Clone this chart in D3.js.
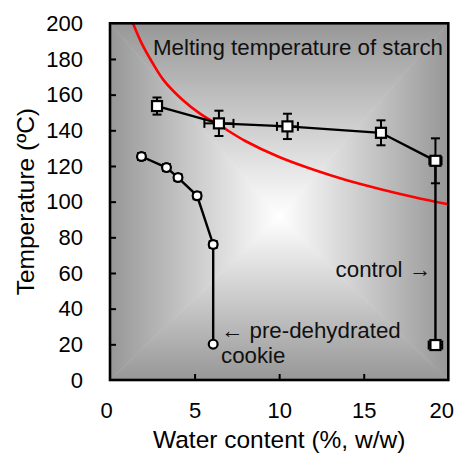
<!DOCTYPE html>
<html>
<head>
<meta charset="utf-8">
<script src="https://cdn.jsdelivr.net/npm/d3@7/dist/d3.min.js"></script>
<style>
  html, body { margin: 0; padding: 0; background: #fff; }
  svg { display: block; font-family: "Liberation Sans", Arial, sans-serif; }
</style>
</head>
<body>
<svg id="chart" width="460" height="453"></svg>
<script>
// Control cookie: water content (%, w/w), temperature (ºC), and their errors
const controlWater = [2.78, 6.44, 10.49, 16.02, 19.24, 19.24];
const controlTemp  = [153.6, 143.9, 142.2, 138.6, 122.9, 19.6];
const controlWaterErr = [0.15, 0.86, 0.62, 0.22, 0.36, 0.40];
const controlTempErr  = [4.8, 7.1, 7.1, 7.0, 12.6, 0.0];

// Pre-dehydrated cookie
const preWater = [1.86, 3.34, 4.02, 5.15, 6.10, 6.10];
const preTemp  = [125.3, 119.1, 113.5, 103.3, 76.0, 20.1];
const preWaterErr = [0.2, 0.2, 0.2, 0.2, 0.2, 0.0];
const preTempErr  = [1.5, 1.5, 1.5, 1.5, 1.5, 0.0];

// Melting temperature of starch vs. water content
const meltWater = [1.36, 1.86, 2.5, 3.18, 4.3, 5.3, 6.44, 8.0, 10.0, 12.0, 14.0, 16.0, 18.0, 20.0];
const meltTemp  = [200.0, 189.0, 178.0, 168.0, 157.0, 149.5, 143.0, 134.0, 125.0, 118.0, 112.0, 107.0, 102.5, 98.5];

const xTicks = [0, 5, 10, 15, 20];
const yTicks = [0, 20, 40, 60, 80, 100, 120, 140, 160, 180, 200];

const svg = d3.select("#chart");
const plot = { left: 110, top: 23.3, right: 448.3, bottom: 380 };
const W = plot.right - plot.left, H = plot.bottom - plot.top;

const x = d3.scaleLinear().domain([0, 20]).range([plot.left, plot.right]);
const y = d3.scaleLinear().domain([0, 200]).range([plot.bottom, plot.top]);

const defs = svg.append("defs");
defs.append("clipPath").attr("id", "plotClip")
  .append("rect").attr("x", plot.left).attr("y", plot.top).attr("width", W).attr("height", H);

// Rectangular "from centre" shading: four triangles, each with a linear ramp
const cx = plot.left + W / 2, cy = plot.top + H / 2 + 15;
const edgeGrey = "#979797", centreWhite = "#ffffff";
function ramp(id, x1, y1, x2, y2) {
  const g = defs.append("linearGradient").attr("id", id)
    .attr("gradientUnits", "userSpaceOnUse")
    .attr("x1", x1).attr("y1", y1).attr("x2", x2).attr("y2", y2);
  g.append("stop").attr("offset", 0).attr("stop-color", edgeGrey);
  g.append("stop").attr("offset", 1).attr("stop-color", centreWhite);
}
ramp("gTop", cx, plot.top, cx, cy);
ramp("gBottom", cx, plot.bottom, cx, cy);
ramp("gLeft", plot.left, cy, cx, cy);
ramp("gRight", plot.right, cy, cx, cy);

const bg = svg.append("g");
const tri = (pts, fill) => bg.append("polygon")
  .attr("points", pts.map(p => p.join(",")).join(" "))
  .attr("fill", fill).attr("stroke", fill).attr("stroke-width", 0.6);
tri([[plot.left, plot.top], [plot.right, plot.top], [cx, cy]], "url(#gTop)");
tri([[plot.left, plot.bottom], [plot.right, plot.bottom], [cx, cy]], "url(#gBottom)");
tri([[plot.left, plot.top], [plot.left, plot.bottom], [cx, cy]], "url(#gLeft)");
tri([[plot.right, plot.top], [plot.right, plot.bottom], [cx, cy]], "url(#gRight)");

// Melting curve
const meltPts = meltWater.map((w, i) => [w, meltTemp[i]]);
svg.append("path")
  .attr("clip-path", "url(#plotClip)")
  .attr("d", d3.line().x(d => x(d[0])).y(d => y(d[1])).curve(d3.curveCatmullRom.alpha(0.5))(meltPts))
  .attr("fill", "none").attr("stroke", "#ff0000").attr("stroke-width", 2.6);

function drawSeries(ws, ts, wErr, tErr, shape) {
  const pts = ws.map((w, i) => ({ w, t: ts[i], we: wErr[i], te: tErr[i] }));
  const g = svg.append("g");
  g.append("path")
    .attr("d", d3.line().x(d => x(d.w)).y(d => y(d.t))(pts))
    .attr("fill", "none").attr("stroke", "#000").attr("stroke-width", 2.4);
  const cap = 4.5;
  pts.forEach(d => {
    const px = x(d.w), py = y(d.t);
    if (d.te > 0) {
      const y1 = y(d.t + d.te), y2 = y(d.t - d.te);
      g.append("line").attr("x1", px).attr("x2", px).attr("y1", y1).attr("y2", y2);
      g.append("line").attr("x1", px - cap).attr("x2", px + cap).attr("y1", y1).attr("y2", y1);
      g.append("line").attr("x1", px - cap).attr("x2", px + cap).attr("y1", y2).attr("y2", y2);
    }
    if (d.we > 0) {
      const x1 = x(d.w - d.we), x2 = x(d.w + d.we);
      g.append("line").attr("x1", x1).attr("x2", x2).attr("y1", py).attr("y2", py);
      g.append("line").attr("x1", x1).attr("x2", x1).attr("y1", py - cap).attr("y2", py + cap);
      g.append("line").attr("x1", x2).attr("x2", x2).attr("y1", py - cap).attr("y2", py + cap);
    }
  });
  g.selectAll("line").attr("stroke", "#000").attr("stroke-width", 2);
  if (shape === "square") {
    g.selectAll("rect.m").data(pts).join("rect").attr("class", "m")
      .attr("x", d => x(d.w) - 5).attr("y", d => y(d.t) - 5)
      .attr("width", 10).attr("height", 10)
      .attr("fill", "#fff").attr("stroke", "#000").attr("stroke-width", 2.2);
  } else {
    g.selectAll("circle.m").data(pts).join("circle").attr("class", "m")
      .attr("cx", d => x(d.w)).attr("cy", d => y(d.t)).attr("r", 4.4)
      .attr("fill", "#fff").attr("stroke", "#000").attr("stroke-width", 2.2);
  }
}
drawSeries(controlWater, controlTemp, controlWaterErr, controlTempErr, "square");
drawSeries(preWater, preTemp, preWaterErr, preTempErr, "circle");

// Axes: inward ticks, labels placed outside the frame
const yAxis = d3.axisLeft(y).tickValues(yTicks).tickSize(-6).tickPadding(27).tickFormat(d3.format("d"));
const gy = svg.append("g").attr("transform", `translate(${plot.left},0)`).call(yAxis);
const xAxis = d3.axisBottom(x).tickValues(xTicks).tickSize(-6).tickPadding(22).tickFormat(d3.format("d"));
const gx = svg.append("g").attr("transform", `translate(0,${plot.bottom})`).call(xAxis);
[gx, gy].forEach(g => {
  g.select(".domain").remove();
  g.selectAll(".tick line").attr("stroke", "#000").attr("stroke-width", 2);
  g.selectAll(".tick text").attr("font-size", 22).attr("fill", "#000")
    .attr("font-family", "'Liberation Sans', Arial, sans-serif");
});
gx.selectAll(".tick").filter(d => d === 0 || d === 20).select("line").remove();
gx.selectAll(".tick text").attr("dy", "0.71em");
gx.selectAll(".tick").filter(d => d === 0).select("text").attr("dx", -4);
gx.selectAll(".tick").filter(d => d === 20).select("text").attr("dx", -7);
gy.selectAll(".tick").filter(d => d === 0 || d === 200).select("line").remove();

// Frame
svg.append("rect").attr("x", plot.left).attr("y", plot.top).attr("width", W).attr("height", H)
  .attr("fill", "none").attr("stroke", "#000").attr("stroke-width", 2.6);

// Axis titles
svg.append("text").attr("x", (plot.left + plot.right) / 2).attr("y", 448)
  .attr("text-anchor", "middle").attr("font-size", 24.5).text("Water content (%, w/w)");
svg.append("text").attr("transform", `translate(34,${(plot.top + plot.bottom) / 2}) rotate(-90)`)
  .attr("text-anchor", "middle").attr("font-size", 24.5).text("Temperature (ºC)");

// Annotations
const note = (tx, ty, s, anchor) => svg.append("text").attr("x", tx).attr("y", ty)
  .attr("font-size", 22.3).attr("text-anchor", anchor || "start").attr("fill", "#111").text(s);
note(153, 55, "Melting temperature of starch");
note(431, 277, "control →", "end");
note(221, 338, "← pre-dehydrated");
note(221, 363, "cookie");
</script>
</body>
</html>
